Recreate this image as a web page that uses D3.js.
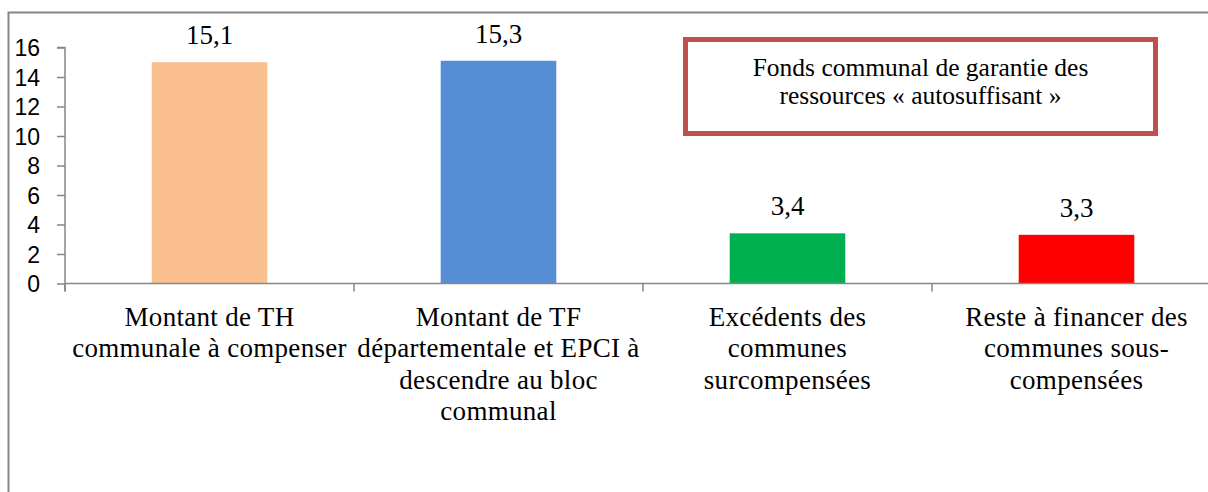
<!DOCTYPE html>
<html>
<head>
<meta charset="utf-8">
<script src="https://cdn.jsdelivr.net/npm/d3@7"></script>
<style>
  html, body { margin: 0; padding: 0; background: #fff; }
  svg { display: block; }
</style>
</head>
<body>
<svg id="chart" width="1208" height="492"></svg>
<script>
// ---- data ----
const categories = [
  ["Montant de TH", "communale à compenser"],
  ["Montant de TF", "départementale et EPCI à", "descendre au bloc", "communal"],
  ["Excédents des", "communes", "surcompensées"],
  ["Reste à financer des", "communes sous-", "compensées"]
];
// bar heights as drawn in the picture
const values = [15.0, 15.1, 3.4, 3.3];
// data labels as printed in the picture
const valueLabels = ["15,1", "15,3", "3,4", "3,3"];
const barColors = ["#FAC090", "#558ED5", "#00B050", "#FF0000"];
const yTicks = [0, 2, 4, 6, 8, 10, 12, 14, 16];
const boxText = ["Fonds communal de garantie des", "ressources « autosuffisant »"];

// ---- drawing ----
const svg = d3.select("#chart");
const axisColor = "#868686";
const serif = "'Liberation Serif', 'Times New Roman', serif";
const sans = "'Liberation Sans', Arial, sans-serif";

const x0 = 65, x1 = 1221, yTop = 47.5, yBot = 283.5;
const idx = d3.range(categories.length);
const x = d3.scaleBand().domain(idx).range([x0, x1]).paddingInner(0.6).paddingOuter(0.3);
const y = d3.scaleLinear().domain([0, 16]).range([yBot, yTop]);

// outer frame (left + top)
svg.append("path")
  .attr("d", `M8.5,492 L8.5,12.5 L1208,12.5`)
  .attr("fill", "none").attr("stroke", axisColor).attr("stroke-width", 2);

// bars
svg.append("g").selectAll("rect").data(idx).join("rect")
  .attr("x", i => x(i))
  .attr("y", i => y(values[i]))
  .attr("width", x.bandwidth())
  .attr("height", i => y(0) - y(values[i]))
  .attr("fill", i => barColors[i]);

// y axis
const yAxis = d3.axisLeft(y).tickValues(yTicks).tickSize(8).tickFormat(d3.format("d"));
const gy = svg.append("g").attr("transform", `translate(${x0},0)`).call(yAxis);
gy.select(".domain").attr("stroke", axisColor).attr("stroke-width", 1.5)
  .attr("d", `M-8,${yTop}H0V${yBot + 8}`);
gy.selectAll(".tick line").attr("stroke", axisColor).attr("stroke-width", 1.5);
gy.selectAll(".tick text")
  .attr("x", -25).attr("dy", "0.36em")
  .attr("fill", "#000").attr("font-family", sans).attr("font-size", 23)
  .attr("text-anchor", "end");

// x axis
const xb = d3.scaleLinear().domain([0, categories.length]).range([x0, x1]);
const gx = svg.append("g").attr("transform", `translate(0,${yBot})`);
gx.append("line").attr("x1", x0).attr("x2", 1208).attr("y1", 0).attr("y2", 0)
  .attr("stroke", axisColor).attr("stroke-width", 1.5);
gx.selectAll("line.tk").data(d3.range(categories.length + 1)).join("line")
  .attr("class", "tk")
  .attr("x1", d => xb(d)).attr("x2", d => xb(d))
  .attr("y1", 0).attr("y2", 8)
  .attr("stroke", axisColor).attr("stroke-width", 1.5);

// category labels
const cl = svg.append("g").selectAll("text").data(idx).join("text")
  .attr("text-anchor", "middle")
  .attr("font-family", serif).attr("font-size", 27).attr("letter-spacing", 0.3)
  .attr("fill", "#000");
cl.each(function(i) {
  const t = d3.select(this);
  categories[i].forEach((line, k) => {
    t.append("tspan")
      .attr("x", x(i) + x.bandwidth() / 2)
      .attr("y", 326 + k * 31.3)
      .text(line);
  });
});

// value labels
svg.append("g").selectAll("text").data(idx).join("text")
  .attr("x", i => x(i) + x.bandwidth() / 2)
  .attr("y", i => y(values[i]) - 18)
  .attr("text-anchor", "middle")
  .attr("font-family", serif).attr("font-size", 27).attr("fill", "#000")
  .text(i => valueLabels[i]);

// annotation box
svg.append("rect")
  .attr("x", 685.5).attr("y", 39.5).attr("width", 470).attr("height", 94)
  .attr("fill", "#fff").attr("stroke", "#C0504D").attr("stroke-width", 5);
const bt = svg.append("text").attr("text-anchor", "middle")
  .attr("font-family", serif).attr("font-size", 25.5).attr("fill", "#000");
boxText.forEach((line, k) => {
  bt.append("tspan").attr("x", 920.5).attr("y", 76 + k * 28).text(line);
});
</script>
</body>
</html>
